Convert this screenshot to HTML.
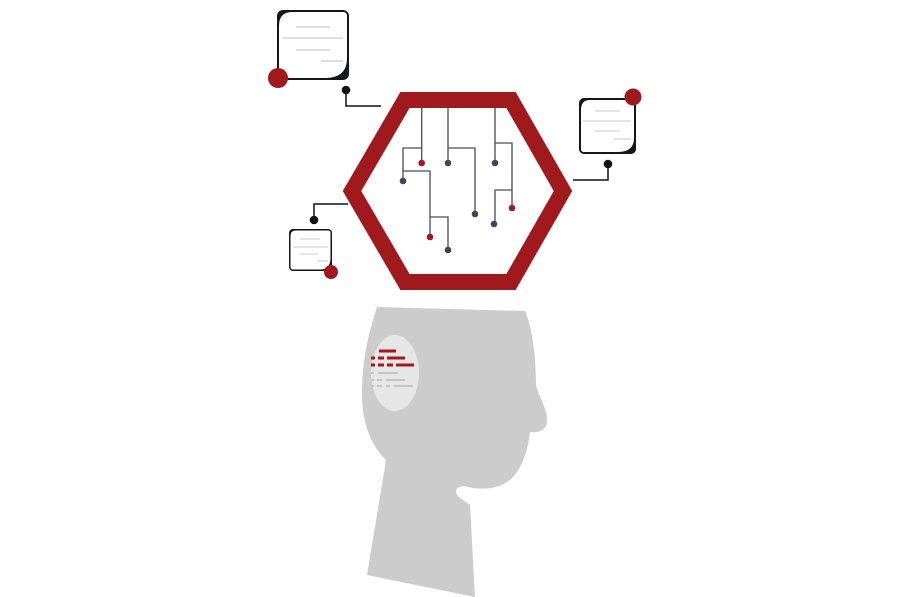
<!DOCTYPE html>
<html><head><style>html,body{margin:0;padding:0;background:#fff}svg{display:block}</style></head>
<body>
<svg width="904" height="597" viewBox="0 0 904 597" xmlns="http://www.w3.org/2000/svg">
<!-- head -->
<path d="M377,307 L525,311 C533,330 536,360 536,385 C540,400 548,410 547,422 C546,432 535,433 530,432 C528,450 522,468 512,478 C500,490 480,490 468,487 C458,484 452,491 459,497 L470,505 L475,597 L367,575 L386,460 C370,445 362,420 362,395 C362,360 368,335 377,307 Z" fill="#cccccc"/>
<ellipse cx="395" cy="373" rx="24" ry="38" fill="#e6e6e6"/>
<g stroke="#a01a1d" stroke-width="3">
<line x1="379" y1="351" x2="396" y2="351"/>
<line x1="371" y1="358" x2="375" y2="358"/><line x1="378" y1="358" x2="384" y2="358"/><line x1="387" y1="358" x2="405" y2="358"/>
<line x1="371" y1="365" x2="375" y2="365"/><line x1="378" y1="365" x2="384" y2="365"/><line x1="387" y1="365" x2="393" y2="365"/><line x1="396" y1="365" x2="414" y2="365"/>
</g>
<g stroke="#c4c4c4" stroke-width="2">
<line x1="371" y1="373" x2="374" y2="373"/><line x1="378" y1="373" x2="398" y2="373"/>
<line x1="371" y1="380" x2="374" y2="380"/><line x1="377" y1="380" x2="382" y2="380"/><line x1="386" y1="380" x2="405" y2="380"/>
<line x1="371" y1="386" x2="374" y2="386"/><line x1="377" y1="386" x2="382" y2="386"/><line x1="386" y1="386" x2="390" y2="386"/><line x1="394" y1="386" x2="413" y2="386"/>
</g>
<!-- hexagon -->
<polygon points="405,100 511,100 563,191 511,282 405,282 352,191" fill="none" stroke="#a01a1d" stroke-width="16" stroke-linejoin="miter"/>
<!-- circuit -->
<g stroke="#4a4a5a" stroke-width="1.3" fill="none">
<path d="M421.7,108 V163 M421.7,148 H403 V181 M403,171 H430 V237 M430,217 H448 V250"/>
<path d="M448,108 V163 M448,148 H475 V214"/>
<path d="M495,108 V163 M495,143 H512 V208 M512,190 H495 V224"/>
</g>
<g fill="#44445a">
<circle cx="403" cy="181" r="3.3"/><circle cx="448" cy="163" r="3.3"/><circle cx="495" cy="163" r="3.3"/>
<circle cx="475" cy="214" r="3.3"/><circle cx="448" cy="250" r="3.3"/><circle cx="494" cy="224" r="3.3"/>
</g>
<g fill="#a01a1d"><circle cx="421.7" cy="163" r="3.3"/><circle cx="430" cy="237" r="3.3"/><circle cx="512" cy="208" r="3.3"/></g>
<!-- connectors -->
<g stroke="#111" stroke-width="1.5" fill="none">
<path d="M346,90 V106 H381"/>
<path d="M348,204 H314 V220"/>
<path d="M573,180 H608 V164"/>
</g>
<g fill="#111"><circle cx="346" cy="90" r="4.3"/><circle cx="314" cy="220" r="4.3"/><circle cx="608" cy="164" r="4.3"/></g>
<!-- card top-left -->
<rect x="277" y="10" width="72" height="70" rx="6" fill="#15151f"/>
<path d="M292,12 H343 Q347,12 347,16 V58 Q347,78 325,78 H283 Q279,78 279,74 V26 Q279,12 292,12 Z" fill="#fff"/>
<g stroke="#d4d4d4" stroke-width="1.5"><line x1="296" y1="27" x2="330" y2="27"/><line x1="283" y1="38" x2="343" y2="38"/><line x1="296" y1="50" x2="330" y2="50"/><line x1="321" y1="61" x2="343" y2="61"/></g>
<circle cx="278" cy="78" r="10" fill="#a01a1d"/>
<!-- card right -->
<rect x="579" y="98" width="57" height="56" rx="5" fill="#15151f"/>
<path d="M590,100 H632 Q634,100 634,102 V138 Q634,152 618,152 H584 Q581,152 581,149 V110 Q581,100 590,100 Z" fill="#fff"/>
<g stroke="#d4d4d4" stroke-width="1.3"><line x1="595" y1="111" x2="620" y2="111"/><line x1="583" y1="121" x2="631" y2="121"/><line x1="594" y1="131" x2="620" y2="131"/><line x1="614" y1="139" x2="631" y2="139"/></g>
<circle cx="633" cy="97" r="8.5" fill="#a01a1d"/>
<!-- card small -->
<rect x="289" y="229" width="43" height="42" rx="4" fill="#15151f"/>
<path d="M296,230.5 H328 Q330.5,230.5 330.5,233 V258 Q330.5,269.5 320,269.5 H293 Q290.5,269.5 290.5,267 V236 Q290.5,230.5 296,230.5 Z" fill="#fff"/>
<g stroke="#d4d4d4" stroke-width="1.2"><line x1="300" y1="239" x2="320" y2="239"/><line x1="293" y1="247" x2="328" y2="247"/><line x1="300" y1="254" x2="318" y2="254"/><line x1="317" y1="261" x2="328" y2="261"/></g>
<circle cx="331" cy="272" r="7" fill="#a01a1d"/>
</svg>
</body></html>
